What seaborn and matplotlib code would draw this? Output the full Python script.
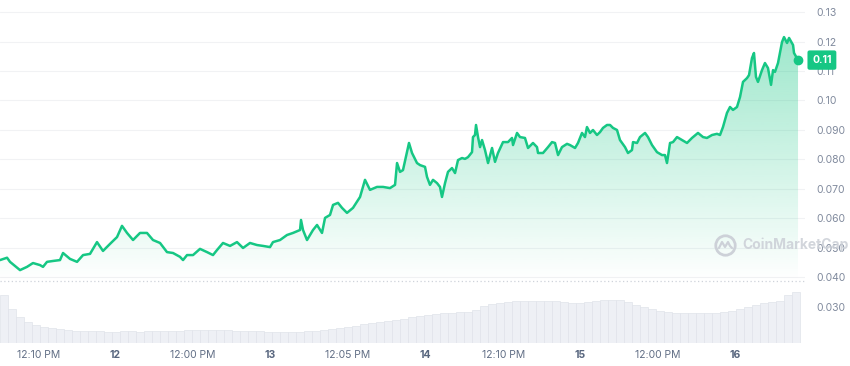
import numpy as np
import pandas as pd
import seaborn as sns
import matplotlib.pyplot as plt
from matplotlib.colors import to_rgb
from matplotlib.lines import Line2D

sns.set_theme(style="white")
plt.rcParams["font.family"] = ["Inter", "DejaVu Sans"]

# hours relative to Nov 12, 00:00
hours = [
    -17.81, -16.72, -16.26, -14.71, -13.63, -12.70, -11.61, -11.15, -10.53, -9.60,
    -8.52, -8.05, -6.97, -5.88, -4.95, -3.87, -2.79, -1.86, -0.77, 0.31,
    1.08, 1.86, 2.79, 3.87, 4.95, 5.88, 6.97, 8.05, 8.98, 10.06,
    10.53, 11.15, 12.08, 13.16, 14.25, 15.17, 15.79, 16.72, 17.81, 18.89,
    19.82, 20.90, 21.99, 22.92, 24.00, 24.46, 25.55, 26.63, 27.56, 28.65,
    28.80, 29.11, 29.73, 30.66, 31.28, 32.05, 32.52, 33.29, 33.76, 34.53,
    35.15, 35.92, 36.85, 37.94, 38.71, 39.48, 40.57, 41.50, 42.58, 43.36,
    43.67, 44.13, 44.59, 45.52, 45.99, 46.76, 47.23, 48.00, 48.31, 48.77,
    49.24, 49.86, 50.32, 50.63, 51.10, 51.56, 52.18, 52.65, 53.11, 53.73,
    54.19, 54.66, 55.28, 55.43, 55.74, 55.90, 56.21, 56.52, 56.83, 57.29,
    57.76, 58.38, 58.84, 59.30, 60.08, 60.85, 61.47, 61.63, 62.25, 62.71,
    63.48, 63.95, 64.72, 65.34, 65.50, 66.27, 67.05, 67.67, 68.13, 68.60,
    69.21, 69.99, 70.45, 71.23, 71.69, 72.31, 72.77, 73.08, 73.55, 74.01,
    74.63, 75.10, 75.56, 76.18, 76.65, 77.11, 77.73, 78.19, 78.97, 79.43,
    80.05, 80.21, 80.83, 81.29, 82.07, 82.53, 83.15, 83.92, 84.70, 85.16,
    85.47, 85.94, 86.40, 87.02, 87.80, 88.57, 89.34, 90.27, 91.05, 91.66,
    92.44, 93.21, 93.68, 94.14, 94.76, 95.23, 95.69, 96.31, 96.78, 97.24,
    97.86, 98.17, 98.63, 98.94, 99.25, 99.56, 100.18, 100.64, 101.11, 101.58,
    101.89, 102.19, 102.66, 103.28, 103.59, 104.06, 104.37, 104.99, 105.14, 105.76,
]
price = [
    0.0459, 0.0467, 0.0453, 0.0425, 0.0436, 0.0449, 0.0442, 0.0436, 0.0453, 0.0456,
    0.0459, 0.0483, 0.0463, 0.0453, 0.0476, 0.0480, 0.0520, 0.0490, 0.0514, 0.0537,
    0.0575, 0.0551, 0.0527, 0.0551, 0.0551, 0.0527, 0.0517, 0.0486, 0.0483, 0.0470,
    0.0459, 0.0476, 0.0476, 0.0497, 0.0486, 0.0476, 0.0493, 0.0517, 0.0507, 0.0520,
    0.0500, 0.0517, 0.0510, 0.0507, 0.0503, 0.0520, 0.0527, 0.0544, 0.0551, 0.0561,
    0.0595, 0.0561, 0.0527, 0.0561, 0.0578, 0.0551, 0.0602, 0.0612, 0.0646, 0.0653,
    0.0636, 0.0619, 0.0636, 0.0673, 0.0731, 0.0697, 0.0707, 0.0707, 0.0703, 0.0714,
    0.0788, 0.0758, 0.0764, 0.0856, 0.0822, 0.0788, 0.0781, 0.0775, 0.0741, 0.0714,
    0.0731, 0.0720, 0.0707, 0.0673, 0.0720, 0.0758, 0.0771, 0.0754, 0.0798, 0.0805,
    0.0802, 0.0808, 0.0825, 0.0876, 0.0883, 0.0917, 0.0876, 0.0842, 0.0866, 0.0832,
    0.0788, 0.0839, 0.0792, 0.0822, 0.0859, 0.0859, 0.0873, 0.0849, 0.0890, 0.0876,
    0.0873, 0.0839, 0.0856, 0.0842, 0.0822, 0.0822, 0.0842, 0.0859, 0.0856, 0.0815,
    0.0842, 0.0853, 0.0849, 0.0839, 0.0856, 0.0890, 0.0876, 0.0910, 0.0890, 0.0900,
    0.0883, 0.0893, 0.0907, 0.0917, 0.0917, 0.0907, 0.0900, 0.0866, 0.0842, 0.0822,
    0.0832, 0.0859, 0.0856, 0.0876, 0.0890, 0.0876, 0.0849, 0.0825, 0.0815, 0.0815,
    0.0788, 0.0856, 0.0859, 0.0876, 0.0866, 0.0856, 0.0873, 0.0890, 0.0876, 0.0873,
    0.0883, 0.0887, 0.0883, 0.0910, 0.0958, 0.0978, 0.0968, 0.0978, 0.1012, 0.1063,
    0.1076, 0.1086, 0.1144, 0.1161, 0.1080, 0.1063, 0.1103, 0.1127, 0.1110, 0.1053,
    0.1103, 0.1097, 0.1127, 0.1198, 0.1215, 0.1195, 0.1212, 0.1188, 0.1161, 0.1137,
]

# volume bars, relative units, evenly spaced in time
vol_start = -17.19
vol_step = 1.2387
volume = [
    48, 34, 26, 21, 18, 16, 14.5, 13.5, 12.5, 12,
    11.5, 11.5, 11.5, 11, 11, 11.5, 11.5, 11, 11.5, 11.5,
    11.5, 12, 12, 12.5, 13, 13, 13, 12.5, 12.5, 12,
    12, 11.5, 11.5, 11, 11, 11, 11, 11, 11.5, 12,
    13, 14, 15, 16, 17, 18.5, 19.5, 20.5, 21.5, 22.5,
    24, 25.5, 26.5, 27.5, 28.5, 29.5, 30, 30.5, 31, 33,
    36.5, 38.5, 40, 41, 42, 42, 42, 42, 42, 41.5,
    40.5, 39.5, 39.5, 40.5, 41.5, 42.5, 43, 42.5, 41, 38,
    35.5, 33.5, 31.5, 30.5, 30, 30, 30, 30, 30, 30,
    30.5, 32, 34, 36, 38, 39.5, 40.5, 42, 48, 51,
]

tick_hours = [-11.83, 0, 12, 24, 36.08, 48, 60.17, 72, 84, 96]
tick_labels = ["12:10 PM", "12", "12:00 PM", "13", "12:05 PM", "14",
               "12:10 PM", "15", "12:00 PM", "16"]
price_ticks = [0.03, 0.04, 0.05, 0.06, 0.07, 0.08, 0.09, 0.10, 0.11, 0.12, 0.13]
price_labels = ["0.030", "0.040", "0.050", "0.060", "0.070", "0.080", "0.090",
                "0.10", "0.11", "0.12", "0.13"]

GREEN = "#16c784"
base = 0.0388

df = pd.DataFrame({"hours": hours, "price": price})
vol_hours = vol_start + vol_step * np.arange(len(volume))

fig = plt.figure(figsize=(8.5, 3.66), dpi=100)
ax = fig.add_axes([0, 23 / 366, 805 / 850, 343 / 366])
ax2 = ax.twinx()

# faint grid
for t in price_ticks[1:]:
    ax.axhline(t, color="#f1f2f4", lw=0.8, zorder=0)
ax.axhline(base, color="#cfd3da", lw=0.9, ls=(0, (1, 2)), zorder=2)

# gradient fill under the line
fill = ax.fill_between(df["hours"], df["price"], base, color="none", lw=0)
clip = fill.get_paths()[0]
rgba = np.zeros((256, 1, 4))
rgba[..., :3] = to_rgb(GREEN)
rgba[:, 0, 3] = np.linspace(0, 0.46, 256)
img = ax.imshow(rgba, extent=[hours[0], hours[-1], base, 0.13], origin="lower",
                aspect="auto", zorder=1, interpolation="bilinear")
img.set_clip_path(clip, transform=ax.transData)

sns.lineplot(data=df, x="hours", y="price", ax=ax, color=GREEN, lw=1.8, zorder=3)
ax.plot(hours[-1], price[-1], "o", color=GREEN, ms=6, zorder=4)

ax2.bar(vol_hours, volume, width=vol_step * 0.92, color="#eef0f5",
        edgecolor="#e0e3ea", lw=0.5)
ax2.set_ylim(0, max(volume) * 6.7)
ax2.set_yticks([])

ax.set_xlim(-17.81, 106.84)
ax.set_ylim(0.01779, 0.13407)
ax.set_xlabel("")
ax.set_ylabel("")
ax.yaxis.tick_right()
ax.set_yticks(price_ticks, price_labels)
ax.set_xticks(tick_hours, tick_labels)
ax.tick_params(axis="y", length=0, pad=8, labelsize=7.5, labelcolor="#808a9d")
ax.tick_params(axis="x", length=0, pad=5, labelsize=7.5, labelcolor="#616e85")
for lab in ax.get_xticklabels():
    if lab.get_text().isdigit():
        lab.set_fontweight("bold")
        lab.set_color("#58667e")
for a in (ax, ax2):
    for s in a.spines.values():
        s.set_visible(False)
ax.grid(False)
ax2.grid(False)

# current price tag
ax.text(1.021, price[-1], f"{price[-1]:.2f}", transform=ax.get_yaxis_transform(),
        ha="center", va="center", color="white", fontsize=7.5, fontweight="bold",
        bbox=dict(boxstyle="round,pad=0.45,rounding_size=0.2", fc=GREEN, ec="none"),
        clip_on=False, zorder=10)

# watermark
wm = "#cdd1d8"
fig.add_artist(Line2D([725 / 850], [1 - 245 / 366], marker="o", ms=14, mfc="none",
                      mec=wm, mew=2, transform=fig.transFigure))
mx = np.array([-6, -3, 0, 3, 5, 7]) / 850 + 725 / 850
my = np.array([-3, 3, -2, 3, -1, -3]) / 366 + 1 - 245 / 366
fig.add_artist(Line2D(mx, my, color=wm, lw=1.6, transform=fig.transFigure))
fig.text(742 / 850, 1 - 245 / 366, "CoinMarketCap", color=wm, fontsize=10,
         fontweight="bold", va="center", ha="left", alpha=0.9)

fig.savefig("out.png", dpi=100)
